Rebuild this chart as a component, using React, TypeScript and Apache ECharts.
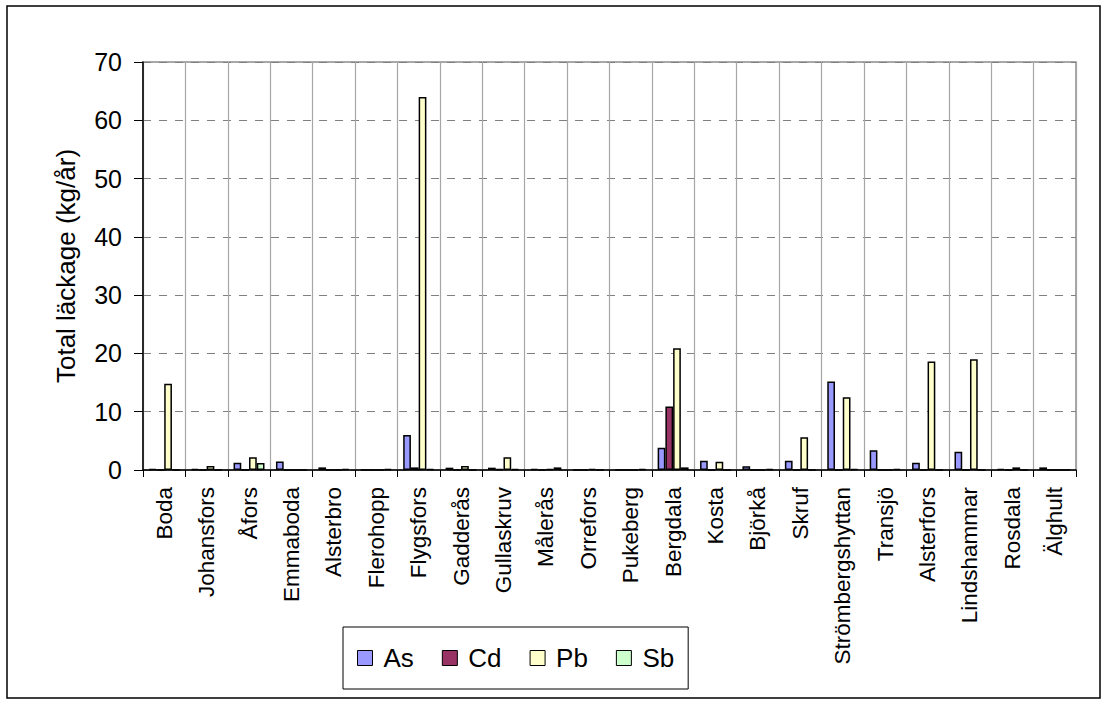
import React, { useEffect, useRef } from "react";
import * as echarts from "echarts";

// Glassworks sites along the x axis
const categories = [
  "Boda", "Johansfors", "Åfors", "Emmaboda", "Alsterbro", "Flerohopp",
  "Flygsfors", "Gadderås", "Gullaskruv", "Målerås", "Orrefors", "Pukeberg",
  "Bergdala", "Kosta", "Björkå", "Skruf", "Strömbergshyttan", "Transjö",
  "Alsterfors", "Lindshammar", "Rosdala", "Älghult",
];

// Total leakage per metal, kg/year
const asValues = [0.15, 0.2, 1.25, 1.45, 0.45, 0, 6.0, 0.4, 0.4, 0.2, 0, 0, 3.8, 1.6, 0.65, 1.6, 15.2, 3.4, 1.25, 3.15, 0.2, 0.45];
const cdValues = [0, 0, 0, 0, 0, 0, 0.45, 0, 0.15, 0, 0, 0, 10.9, 0, 0, 0, 0, 0, 0, 0, 0, 0];
const pbValues = [14.8, 0.7, 2.2, 0, 0, 0, 64.0, 0.7, 2.2, 0.2, 0.2, 0, 20.9, 1.4, 0, 5.6, 12.5, 0, 18.6, 19.0, 0.45, 0];
const sbValues = [0, 0, 1.2, 0, 0.2, 0.2, 0.2, 0, 0.2, 0.45, 0, 0.2, 0.45, 0, 0.2, 0, 0.2, 0.2, 0, 0, 0, 0];

const seriesNames = ["As", "Cd", "Pb", "Sb"];
const seriesColors = ["#9999FF", "#993366", "#FFFFCC", "#CCFFCC"];
const seriesData = [asValues, cdValues, pbValues, sbValues];

const yTicks = { min: 0, max: 70, interval: 10 };

const FONT = "'Liberation Sans', Arial, sans-serif";

export default function App() {
  const ref = useRef<HTMLDivElement>(null);

  useEffect(() => {
    if (!ref.current) return;
    const chart = echarts.init(ref.current, undefined, { renderer: "svg" });
    chart.setOption({
      animation: false,
      backgroundColor: "#ffffff",
      textStyle: { fontFamily: FONT, color: "#000" },
      graphic: [
        {
          type: "rect",
          shape: { x: 7, y: 6, width: 1093, height: 692 },
          style: { fill: "none", stroke: "#000", lineWidth: 1.5 },
          silent: true,
          z: -1,
        },
      ],
      grid: {
        left: 143,
        top: 62,
        right: 38,
        bottom: 239,
        show: true,
        borderColor: "#8c8c8c",
        borderWidth: 1.5,
        containLabel: false,
      },
      legend: {
        left: 343,
        top: 627,
        orient: "horizontal",
        data: seriesNames,
        itemWidth: 15,
        itemHeight: 15,
        itemGap: 28,
        icon: "rect",
        padding: [18, 14, 18, 14],
        borderColor: "#000",
        borderWidth: 1,
        itemStyle: { borderColor: "#000", borderWidth: 1 },
        textStyle: { fontSize: 26, color: "#000", fontFamily: FONT, padding: [0, 0, 0, 6] },
      },
      xAxis: {
        type: "category",
        data: categories,
        boundaryGap: true,
        axisLine: { show: true, lineStyle: { color: "#000", width: 1.5 } },
        axisTick: { show: true, interval: 0, length: 7, lineStyle: { color: "#000" } },
        splitLine: { show: true, interval: 0, lineStyle: { color: "#a6a6a6", width: 1.2 } },
        axisLabel: {
          interval: 0,
          rotate: 90,
          margin: 17,
          fontSize: 22.5,
          color: "#000",
          fontFamily: FONT,
        },
      },
      yAxis: {
        type: "value",
        min: yTicks.min,
        max: yTicks.max,
        interval: yTicks.interval,
        name: "Total läckage (kg/år)",
        nameLocation: "middle",
        nameRotate: 90,
        nameGap: 64,
        nameTextStyle: { fontSize: 26, color: "#000", fontFamily: FONT },
        axisLine: { show: true, lineStyle: { color: "#000", width: 1.5 } },
        axisTick: { show: true, length: 9, lineStyle: { color: "#000" } },
        axisLabel: { fontSize: 25, margin: 21, color: "#000", fontFamily: FONT },
        splitLine: {
          show: true,
          lineStyle: { color: "#808080", width: 1.2, type: [8, 8] },
        },
      },
      series: seriesNames.map((name, i) => ({
        name,
        type: "bar",
        data: seriesData[i],
        barGap: "0%",
        barCategoryGap: "27%",
        itemStyle: { color: seriesColors[i], borderColor: "#000", borderWidth: 1.5 },
      })),
    });
    return () => chart.dispose();
  }, []);

  return (
    <div
      ref={ref}
      style={{ position: "absolute", left: 0, top: 0, width: 1114, height: 709, background: "#fff" }}
    />
  );
}
